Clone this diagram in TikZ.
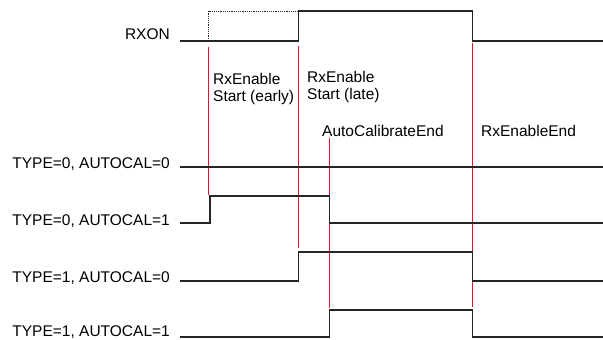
\documentclass[tikz,border=0pt]{standalone}
\usepackage{fontspec}
\setmainfont{Liberation Sans}
\usepackage{xcolor}
\usetikzlibrary{positioning}
\definecolor{evtred}{RGB}{232,16,44}
\tikzset{sig/.style={line width=1.2pt, black!85},
lbl/.style={font=\fontsize{15.5}{17}\selectfont, inner sep=0pt},
siglbl/.style={lbl, anchor=base east},
evtlbl/.style={lbl, align=left, anchor=north west},
evt/.style={evtred, line width=1.3pt}}

\begin{document}
\begin{tikzpicture}[x=1pt, y=-1pt]
					\useasboundingbox (0,0) rectangle (603,340);
					\coordinate (early) at (208.5,0);
					\coordinate (late) at (298.5,0);
					\coordinate (cal) at (329.5,0);
					\coordinate (end) at (472.5,0);
					\draw[evt] (early |- 0,47) -- (early |- 0,195);
					\draw[evt] (late |- 0,46) -- (late |- 0,248);
					\draw[evt] (cal |- 0,138) -- (cal |- 0,308);
					\draw[evt] (end |- 0,43) -- (end |- 0,307);
					\node[evtlbl] (lblearly) at (213,73) {RxEnable\\Start (early)};
					\node[evtlbl] (lbllate) at (307,71) {RxEnable\\Start (late)};
					\node[lbl, anchor=base west] (lblcal) at (322,136) {AutoCalibrateEnd};
					\node[lbl, anchor=base west] (lblend) at (481,136) {RxEnableEnd};
					\node[siglbl] (rxon) at (170,39) {RXON};
					\node[siglbl] (t0a0) at (170,168) {TYPE=0, AUTOCAL=0};
					\node[siglbl] (t0a1) at (170,225) {TYPE=0, AUTOCAL=1};
					\node[siglbl] (t1a0) at (170,282) {TYPE=1, AUTOCAL=0};
					\node[siglbl] (t1a1) at (170,336.5) {TYPE=1, AUTOCAL=1};
					\draw[sig, densely dotted, line width=1pt] (early |- 0,41) |- (late |- 0,11);
					\draw[sig] (180,41) -| (late |- 0,11) -| (end |- 0,41) -- (603,41);
					\draw[sig] (180,167) -- (603,167);
					\draw[sig] (180,223) -| (210,196) -| (cal |- 0,223) -- (603,223);
					\draw[sig] (180,281) -| (late |- 0,252) -| (end |- 0,281) -- (603,281);
					\draw[sig] (180,337) -| (cal |- 0,310) -| (end |- 0,337) -- (603,337);
			\end{tikzpicture}
\end{document}
